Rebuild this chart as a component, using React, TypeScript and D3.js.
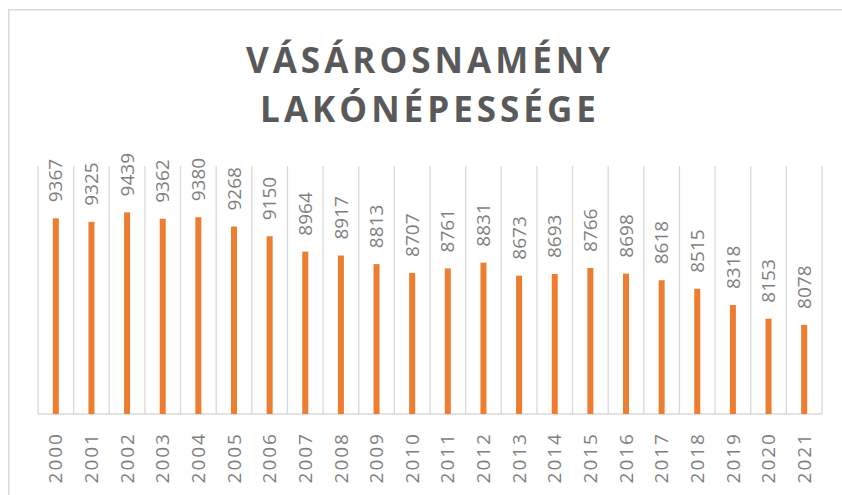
import React from "react";
import * as d3 from "d3";

const years = ["2000","2001","2002","2003","2004","2005","2006","2007","2008","2009","2010","2011","2012","2013","2014","2015","2016","2017","2018","2019","2020","2021"];
const population = [9367,9325,9439,9362,9380,9268,9150,8964,8917,8813,8707,8761,8831,8673,8693,8766,8698,8618,8515,8318,8153,8078];
const titleLines = ["VÁSÁROSNAMÉNY", "LAKÓNÉPESSÉGE"];
const yDomain = [7000, 10000];

export default function App() {
  const W = 842, H = 495;
  const left = 38, right = 822, top = 166, base = 414;
  const x = d3.scaleBand<string>().domain(years).range([left, right]).padding(0);
  const y = d3.scaleLinear().domain(yDomain).range([base, top]);
  const bw = 6;
  const font = "'Open Sans', 'Liberation Sans', sans-serif";
  const grid = "#d9d9d9";
  const boundaries = years.map((yr) => x(yr)!).concat([right]);
  return (
    <svg width={W} height={H} style={{ position: "absolute", left: 0, top: 0 }} fontFamily={font}>
      <rect x={0} y={0} width={W} height={H} fill="#fff" />
      <rect x={8.75} y={9.75} width={900} height={600} fill="none" stroke={grid} strokeWidth={1.5} />
      {titleLines.map((t, i) => (
        <text key={t} x={430} y={73 + i * 49} textAnchor="middle" fontSize={35} fontWeight={700}
          letterSpacing={4} fill="#595959">{t}</text>
      ))}
      {boundaries.map((bx, i) => (
        <line key={i} x1={bx} x2={bx} y1={top} y2={base} stroke={grid} strokeWidth={1.3} />
      ))}
      <line x1={left} x2={right} y1={base} y2={base} stroke={grid} strokeWidth={1.5} />
      {years.map((yr, i) => {
        const cx = x(yr)! + x.bandwidth() / 2;
        const v = population[i];
        const yt = y(v);
        return (
          <g key={yr}>
            <rect x={cx - bw / 2} y={yt} width={bw} height={base - yt} fill="#ED7D31" />
            <text transform={`translate(${cx},${yt - 16}) rotate(-90)`} dy="0.35em" textAnchor="start"
              fontSize={19} fill="#7f7f7f">{v}</text>
            <text transform={`translate(${cx},432) rotate(-90)`} dy="0.35em" textAnchor="end"
              fontSize={19} letterSpacing={2} fill="#7f7f7f">{yr}</text>
          </g>
        );
      })}
    </svg>
  );
}
